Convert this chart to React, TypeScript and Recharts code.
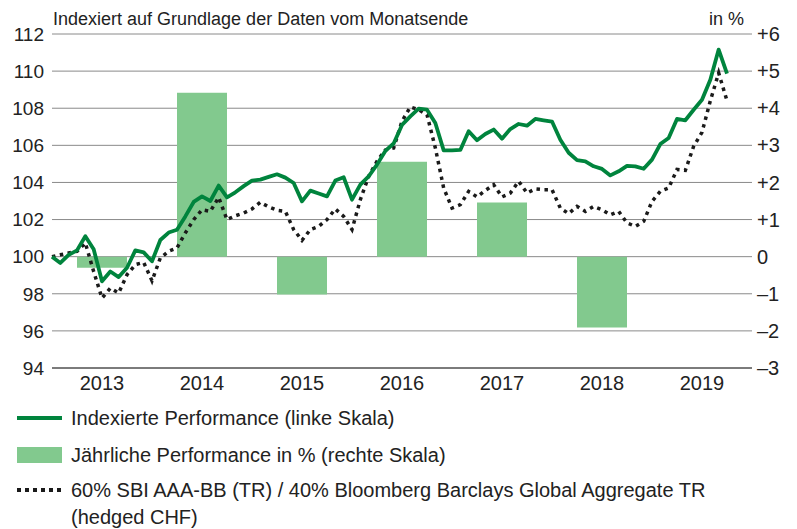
import { ComposedChart, Bar, Line, XAxis, YAxis, CartesianGrid } from "recharts";

// Monatsende-Werte, Dez. 2012 (=100) bis Sep. 2019
const indexed = [
  100, 99.66, 100.1, 100.34, 101.1, 100.4, 98.67, 99.2, 98.9, 99.4, 100.34, 100.23,
  99.75, 100.9, 101.3, 101.45, 102.17, 102.95, 103.25, 103.0, 103.83, 103.2, 103.47, 103.8,
  104.1, 104.15, 104.3, 104.44, 104.26, 103.97, 102.98, 103.56, 103.4, 103.25, 104.1, 104.28,
  103.07, 103.88, 104.33, 104.96, 105.7, 106.1, 107.1, 107.56, 107.98, 107.92, 107.2, 105.73,
  105.73, 105.75, 106.76, 106.27, 106.61, 106.85, 106.36, 106.88, 107.15, 107.06, 107.42, 107.35,
  107.28, 106.3, 105.6, 105.2, 105.14, 104.87, 104.73, 104.38, 104.6, 104.89, 104.87, 104.74,
  105.23, 106.07, 106.4, 107.42, 107.35, 107.92, 108.46, 109.54, 111.16, 109.87,
];

const benchmark = [
  100, 100.1, 100.2, 100.29, 100.74, 99.2, 97.77, 98.3, 98.04, 99.03, 99.57, 99.69,
  98.7, 99.93, 100.29, 100.47, 101.28, 101.99, 102.53, 102.44, 103.2, 102.0, 102.2, 102.35,
  102.57, 102.93, 102.68, 102.5, 102.44, 101.46, 100.88, 101.46, 101.63, 102.0, 102.57, 102.17,
  101.46, 103.07, 104.33, 105.14, 105.75, 105.86, 107.3, 108.07, 107.92, 107.65, 105.86, 103.7,
  102.62, 102.8, 103.52, 103.22, 103.57, 103.88, 103.22, 103.43, 104.06, 103.43, 103.65, 103.61,
  103.61, 102.62, 102.32, 102.71, 102.44, 102.71, 102.53, 102.26, 102.44, 101.82, 101.63, 101.9,
  102.98, 103.52, 103.7, 104.7, 104.65, 105.95, 106.7, 108.4, 109.9, 108.4,
];

const years = ["2013", "2014", "2015", "2016", "2017", "2018", "2019"];
const yearly = [-0.3, 4.42, -1.02, 2.56, 1.46, -1.91, null];

const leftTicks = [94, 96, 98, 100, 102, 104, 106, 108, 110, 112];
const rightTicks = [-3, -2, -1, 0, 1, 2, 3, 4, 5, 6];

const yearData = years.map((y, i) => ({ year: y, perf: yearly[i] }));
const monthData = indexed.map((v, i) => ({ m: i, idx: v, bm: benchmark[i] }));

const GREEN = "#00843d";
const BAR = "#82c98e";
const TEXT = "#222";

const fmtRight = (v: number) => (v > 0 ? `+${v}` : v < 0 ? `–${-v}` : "0");

export default function App() {
  return (
    <div
      style={{
        position: "absolute",
        left: 0,
        top: 0,
        width: 797,
        height: 529,
        background: "#fff",
        fontFamily: "'Liberation Sans', Arial, sans-serif",
        color: TEXT,
      }}
    >
      <div style={{ position: "absolute", left: 53, top: 9, fontSize: 18, lineHeight: "20px" }}>
        Indexiert auf Grundlage der Daten vom Monatsende
      </div>
      <div style={{ position: "absolute", left: 709, top: 9, fontSize: 18, lineHeight: "20px" }}>in %</div>

      <div style={{ position: "absolute", left: 0, top: 0 }}>
        <ComposedChart
          width={797}
          height={398}
          data={yearData}
          margin={{ top: 34, right: 0, left: 0, bottom: 0 }}
        >
          <CartesianGrid
            xAxisId="year"
            yAxisId="left"
            vertical={false}
            stroke="#8a8a8a"
            strokeWidth={1}
          />
          <XAxis
            xAxisId="year"
            dataKey="year"
            height={30}
            tickLine={false}
            tickSize={0}
            tickMargin={8}
            axisLine={{ stroke: "#333", strokeWidth: 1 }}
            tick={{ fontSize: 20, fill: TEXT }}
          />
          <XAxis xAxisId="m" dataKey="m" type="number" domain={[0, 84]} height={0} hide />
          <YAxis
            yAxisId="left"
            domain={[94, 112]}
            ticks={leftTicks}
            width={52}
            tickSize={0}
            tickMargin={8}
            tickLine={false}
            axisLine={false}
            tick={{ fontSize: 19, fill: TEXT }}
          />
          <YAxis
            yAxisId="right"
            orientation="right"
            domain={[-3, 6]}
            ticks={rightTicks}
            width={45}
            tickSize={0}
            tickMargin={5}
            tickLine={false}
            axisLine={false}
            tickFormatter={fmtRight}
            tick={{ fontSize: 20, fill: TEXT, textAnchor: "start" }}
          />
          <Bar
            xAxisId="year"
            yAxisId="right"
            dataKey="perf"
            fill={BAR}
            barSize={50}
            isAnimationActive={false}
          />
          <Line
            xAxisId="m"
            yAxisId="left"
            data={monthData}
            dataKey="bm"
            stroke="#1a1a1a"
            strokeWidth={3.5}
            strokeDasharray="3.5 4.5"
            dot={false}
            type="linear"
            isAnimationActive={false}
          />
          <Line
            xAxisId="m"
            yAxisId="left"
            data={monthData}
            dataKey="idx"
            stroke={GREEN}
            strokeWidth={3.8}
            strokeLinejoin="round"
            dot={false}
            type="linear"
            isAnimationActive={false}
          />
        </ComposedChart>
      </div>

      <div style={{ position: "absolute", left: 0, top: 0, fontSize: 20, lineHeight: "22px" }}>
        <div style={{ position: "absolute", left: 17, top: 416, width: 45, height: 4, background: GREEN }} />
        <div style={{ position: "absolute", left: 71, top: 407, whiteSpace: "nowrap" }}>
          Indexierte Performance (linke Skala)
        </div>
        <div style={{ position: "absolute", left: 17, top: 447, width: 45, height: 16, background: BAR }} />
        <div style={{ position: "absolute", left: 71, top: 444, whiteSpace: "nowrap" }}>
          Jährliche Performance in % (rechte Skala)
        </div>
        <svg style={{ position: "absolute", left: 17, top: 486 }} width={45} height={8}>
          <line x1={0} y1={4} x2={45} y2={4} stroke="#1a1a1a" strokeWidth={4} strokeDasharray="4 4" />
        </svg>
        <div style={{ position: "absolute", left: 71, top: 479, whiteSpace: "nowrap" }}>
          60% SBI AAA-BB (TR) / 40% Bloomberg Barclays Global Aggregate TR
        </div>
        <div style={{ position: "absolute", left: 71, top: 506, whiteSpace: "nowrap" }}>(hedged CHF)</div>
      </div>
    </div>
  );
}
